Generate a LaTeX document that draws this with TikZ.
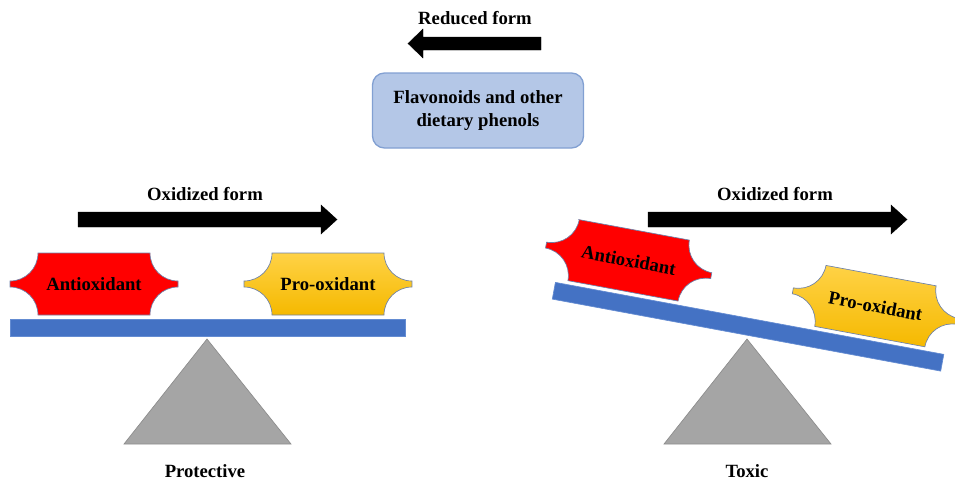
\documentclass[tikz,border=0pt]{standalone}
\usepackage{fontspec}
\setmainfont{Liberation Serif}
\definecolor{barblue}{RGB}{68,114,196}
\definecolor{baredge}{RGB}{100,140,210}
\definecolor{boxfill}{RGB}{180,199,231}
\definecolor{boxedge}{RGB}{130,160,210}
\definecolor{antired}{RGB}{255,0,0}
\definecolor{goldtop}{RGB}{255,210,70}
\definecolor{goldbot}{RGB}{245,185,0}
\definecolor{plqedge}{RGB}{110,130,170}
\definecolor{trigray}{RGB}{165,165,165}
\definecolor{triedge}{RGB}{140,140,140}
\newcommand\plaquepath[4]{% left, top, width, height ; r=28
  (#1+28,#2) -- (#1+#3-28,#2)
  .. controls (#1+#3-28,#2+15.5) and (#1+#3-15.5,#2+28) .. (#1+#3,#2+28)
  -- (#1+#3,#2+#4-28)
  .. controls (#1+#3-15.5,#2+#4-28) and (#1+#3-28,#2+#4-15.5) .. (#1+#3-28,#2+#4)
  -- (#1+28,#2+#4)
  .. controls (#1+28,#2+#4-15.5) and (#1+15.5,#2+#4-28) .. (#1,#2+#4-28)
  -- (#1,#2+28)
  .. controls (#1+15.5,#2+28) and (#1+28,#2+15.5) .. cycle}
\tikzset{
  lbl/.style={font=\fontsize{14}{17}\selectfont\bfseries, inner sep=0pt},
  antiplq/.style={fill=antired, draw=plqedge, line width=0.5pt},
  proplq/.style={top color=goldtop, bottom color=goldbot, draw=plqedge, line width=0.5pt},
  barstyle/.style={fill=barblue, draw=baredge, line width=0.5pt},
  tristyle/.style={fill=trigray, draw=triedge, line width=0.5pt},
  blockarrow/.style={fill=black, draw=black, line width=0.3pt},
}
\begin{document}
\begin{tikzpicture}[x=0.75pt, y=-0.75pt]
\useasboundingbox (0,0) rectangle (955,483);

% top: reduced form
\node[lbl] (redtxt) at (475,18) {Reduced form};
\draw[blockarrow] (541,37) -- (423,37) -- (423,29) -- (408,43.5) -- (423,58) -- (423,50) -- (541,50) -- cycle;
\node[lbl, draw=boxedge, fill=boxfill, line width=1pt, rounded corners=9pt,
      minimum width=211*0.75pt, minimum height=75*0.75pt, align=center,
      font=\fontsize{14}{17.25}\selectfont\bfseries] (flav) at (478,110.5)
      {Flavonoids and other\\dietary phenols};

% left: protective
\node[lbl] (oxl) at (205,194) {Oxidized form};
\draw[blockarrow] (78,212) -- (321,212) -- (321,205) -- (337,219.5) -- (321,234) -- (321,227) -- (78,227) -- cycle;
\begin{scope}[shift={(207,336)}]
  \draw[barstyle] (-197,-17) rectangle (198,0);
  \draw[antiplq] \plaquepath{-197}{-83}{168}{62};
  \node[lbl] (antil) at (-113,-52) {Antioxidant};
  \draw[proplq] \plaquepath{37}{-83}{168}{62};
  \node[lbl] (prol) at (121,-52) {Pro-oxidant};
\end{scope}
\draw[tristyle] (207,339) -- (291,444) -- (124,444) -- cycle;
\node[lbl] (prot) at (205,471) {Protective};

% right: toxic
\node[lbl] (oxr) at (775,194) {Oxidized form};
\draw[blockarrow] (648,212) -- (891,212) -- (891,205) -- (907,219.5) -- (891,234) -- (891,227) -- (648,227) -- cycle;
\draw[tristyle] (747,339) -- (831,444) -- (664,444) -- cycle;
\begin{scope}[shift={(746,335)}, rotate=-10.5]
  \draw[barstyle] (-197,-17) rectangle (198,0);
  \draw[antiplq] \plaquepath{-213}{-83}{168}{62};
  \node[lbl, transform shape] (antir) at (-129,-52) {Antioxidant};
  \draw[proplq] \plaquepath{38}{-83}{168}{62};
  \node[lbl, transform shape] (pror) at (122,-52) {Pro-oxidant};
\end{scope}
\node[lbl] (tox) at (747,471) {Toxic};
\end{tikzpicture}
\end{document}
